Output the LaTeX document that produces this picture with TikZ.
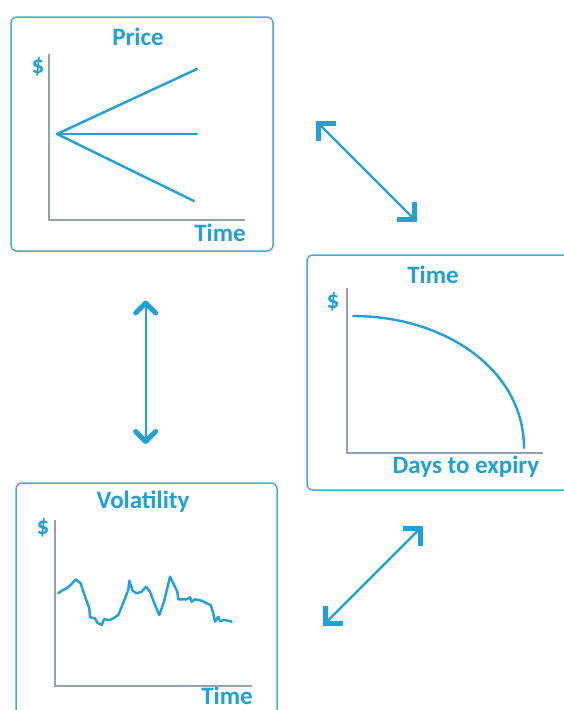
\documentclass[tikz,border=0pt]{standalone}
\usepackage{fontspec}
\setmainfont{Carlito}
\definecolor{lineblue}{RGB}{30,160,218}
\definecolor{boxblue}{RGB}{64,172,225}
\definecolor{axisgray}{RGB}{143,163,181}
\tikzset{
  panel/.style={draw=boxblue, line width=1.5pt, rounded corners=6pt, fill=white},
  axisline/.style={draw=axisgray, line width=2.6pt},
  curve/.style={draw=lineblue, line width=2.4pt, line join=round, line cap=round},
  lbl/.style={text=lineblue, font=\fontsize{25}{29}\selectfont\bfseries, inner sep=0pt},
  linkline/.style={draw=lineblue, line width=2.2pt},
  cornerhead/.style={draw=lineblue, line width=5pt, line cap=rect, line join=miter},
  chevhead/.style={draw=lineblue, line width=5pt, line cap=round, line join=round},
}
\begin{document}
\begin{tikzpicture}[x=1pt,y=-1pt]
\useasboundingbox (0,0) rectangle (564,710);
\clip (0,0) rectangle (564,710);
% panels
\node[panel, minimum width=262pt, minimum height=234pt] (b1) at (142,134) {};
\node[panel, minimum width=270pt, minimum height=235pt] (b2) at (442,372.5) {};
\node[panel, minimum width=261pt, minimum height=250pt] (b3) at (146.5,608) {};
% panel 1: Price
\node[lbl] (t1) at (138,37) {Price};
\node[lbl] (d1) at (38,67) {\$};
\node[lbl, anchor=east] (x1) at (246,233) {Time};
\coordinate (o1) at (49,220);
\draw[axisline] (49,54) -- (o1) -- (245,220);
\coordinate (p0) at (57,134);
\draw[curve] (p0) -- (197,69);
\draw[curve] (p0) -- (197,134);
\draw[curve] (p0) -- (194,201);
% panel 2: Time
\node[lbl] (t2) at (433,275) {Time};
\node[lbl] (d2) at (333,302) {\$};
\node[lbl] (x2) at (466,467) {Days to expiry};
\draw[axisline] (347,288) -- (347,453) -- (543,453);
\draw[curve] (353,316) .. controls (445,316) and (524,370) .. (524,448);
% panel 3: Volatility
\node[lbl] (t3) at (143,502) {Volatility};
\node[lbl] (d3) at (43,528) {\$};
\node[lbl, anchor=east] (x3) at (253,695.5) {Time};
\draw[axisline] (55,520) -- (55,686) -- (252,686);
\draw[curve] (58.3,593.3) -- (61.7,590.7) -- (66.7,588.3) -- (71.7,584) -- (75.7,579.3) -- (80.7,583.3) -- (85,596.7) -- (89.3,608.3) -- (90,617.3) -- (95,618.3) -- (97.3,622.7) -- (101.7,625) -- (104,619.3) -- (110,620) -- (113.3,618.3) -- (118.3,615) -- (121.7,606.7) -- (128.3,590) -- (129.3,580.7) -- (132.7,590.7) -- (136.7,593.3) -- (141.7,591.7) -- (146,586.7) -- (150,591.7) -- (155,605) -- (159.3,615) -- (164,601.7) -- (170,576.7) -- (173.3,583.3) -- (177.3,591.7) -- (178.3,599.3) -- (186.7,599.3) -- (190,597.3) -- (191.7,601.7) -- (195,599.3) -- (201.7,600.7) -- (206.7,603.3) -- (210.7,605) -- (213.3,613.3) -- (215,621.7) -- (218.3,616.7) -- (220,621) -- (225,620) -- (228.3,620.7) -- (231.7,621.7);
% connector 1: Price <-> Time (diagonal)
\coordinate (a1s) at (318,123);
\coordinate (a1e) at (414,219);
\draw[linkline] (a1s) -- (a1e);
\draw[cornerhead] (a1s) ++(15,0) -- (a1s) -- ++(0,15);
\draw[cornerhead] (a1e) ++(-15,0) -- (a1e) -- ++(0,-15);
% connector 2: Price <-> Volatility (vertical)
\coordinate (a2s) at (145.7,303);
\coordinate (a2e) at (145.7,441.5);
\draw[linkline] (a2s) -- (a2e);
\draw[chevhead] (a2s) ++(-10,10) -- (a2s) -- ++(10,10);
\draw[chevhead] (a2e) ++(-10,-10) -- (a2e) -- ++(10,-10);
% connector 3: Volatility <-> Time (diagonal)
\coordinate (a3s) at (325,623.5);
\coordinate (a3e) at (420,528.5);
\draw[linkline] (a3s) -- (a3e);
\draw[cornerhead] (a3s) ++(15,0) -- (a3s) -- ++(0,-15);
\draw[cornerhead] (a3e) ++(-15,0) -- (a3e) -- ++(0,15);
\end{tikzpicture}
\end{document}
